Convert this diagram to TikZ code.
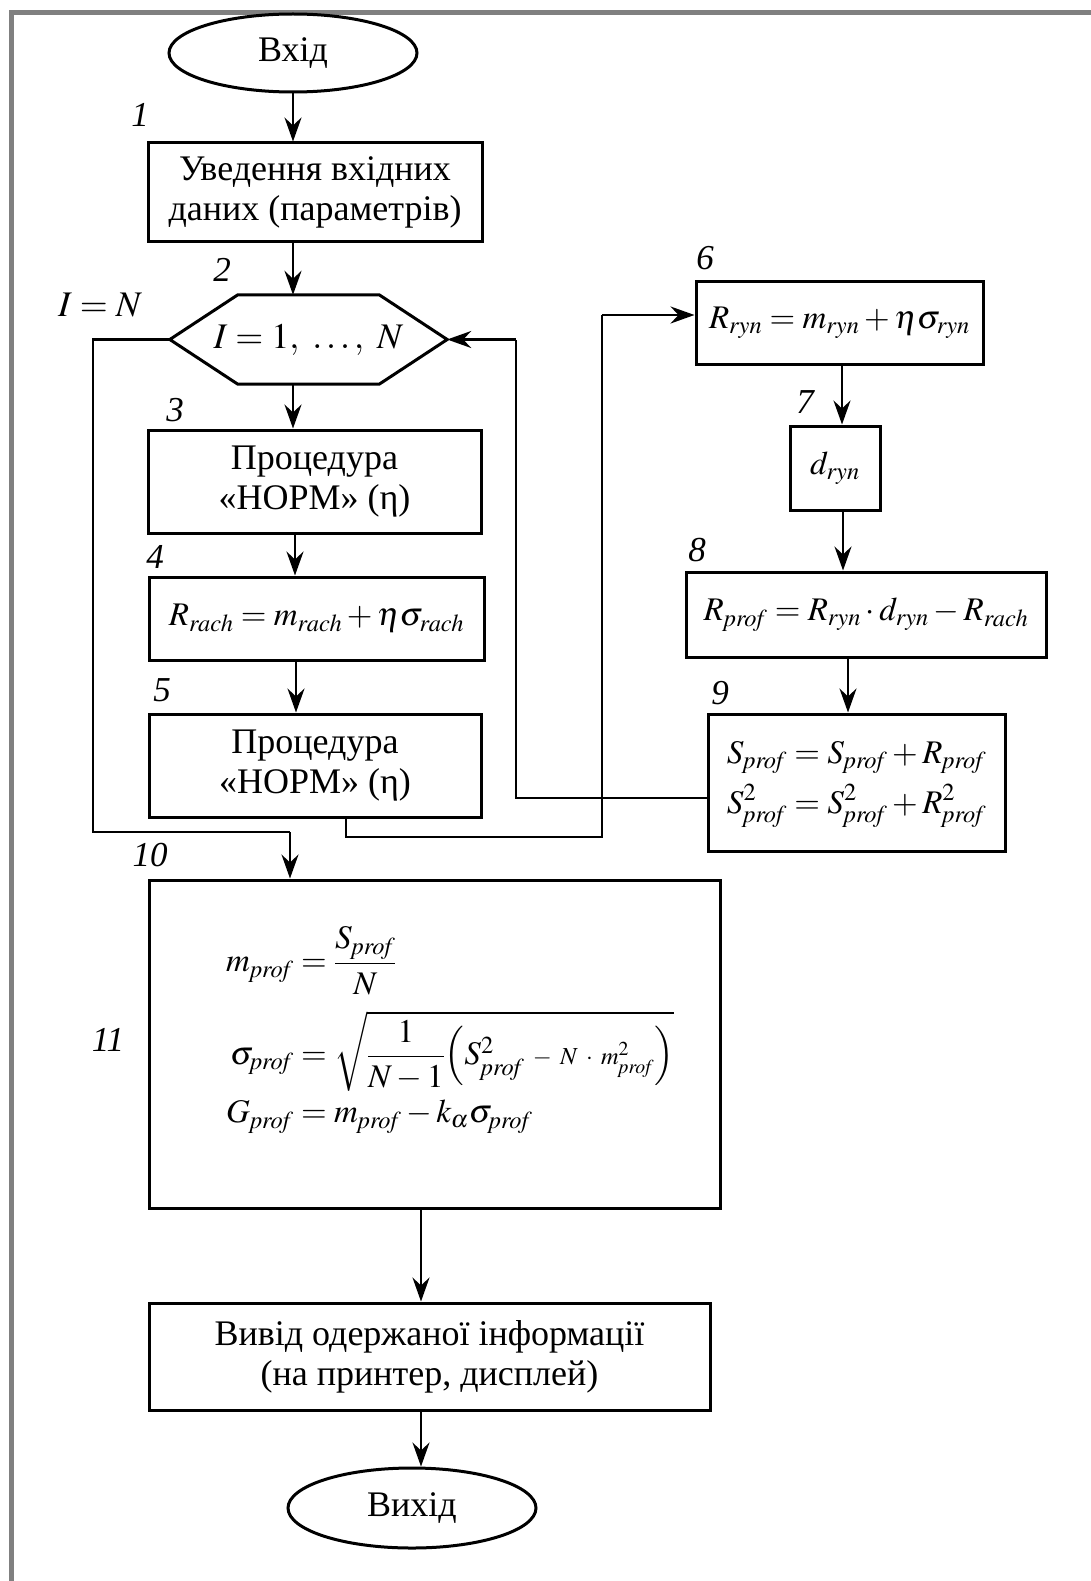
\documentclass[tikz,border=0pt]{standalone}
\usepackage{amsmath}
\usepackage{mathptmx}
\usepackage[no-math]{fontspec}
\setmainfont{Liberation Serif}
\newfontfamily\tmr{Liberation Serif}
\usetikzlibrary{arrows.meta,calc,shapes.geometric}
\definecolor{bordergray}{RGB}{128,128,128}
\newcommand{\sbs}[1]{_{\mathit{#1}}}
\begin{document}
\begin{tikzpicture}[x=1pt,y=-1pt,
  every node/.style={font=\tmr\fontsize{36}{40}\selectfont},
  box/.style={draw, line width=3pt, align=center, inner sep=0pt},
  term/.style={draw, ellipse, line width=3pt, inner sep=0pt},
  lbl/.style={font=\tmr\itshape\fontsize{35}{38}\selectfont, inner sep=0pt},
  mth/.style={font=\tmr\fontsize{33}{36}\selectfont},
  arr/.style={line width=2.5pt, -{Stealth[length=24pt,width=17pt,inset=8pt]}},
  ln/.style={line width=2.5pt}]
\fill[white] (0,0) rectangle (1091,1581);
\useasboundingbox (0,0) rectangle (1091,1581);
\draw[line width=5pt, bordergray] (11,1581) -- (11,13) -- (1091,13);

% nodes
\node[term, minimum width=248pt, minimum height=78pt] (start) at (293,53) {Вхід};
\node[box, minimum width=334pt, minimum height=98pt] (b1) at (315,192) {Уведення вхідних\\даних (параметрів)};
\node[minimum width=277pt, minimum height=89pt, inner sep=0pt] (hex) at (308.5,339.5) {$I = 1,\ \ldots,\ N$};
\draw[line width=3pt] (hex.west) -- ($(hex.north west)+(68,0)$) -- ($(hex.north east)+(-68,0)$) -- (hex.east)
  -- ($(hex.south east)+(-68,0)$) -- ($(hex.south west)+(68,0)$) -- cycle;
\node[box, minimum width=333pt, minimum height=103pt] (b3) at (314.5,481.5) {Процедура\\«НОРМ» (η)};
\node[box, mth, minimum width=335pt, minimum height=83pt] (b4) at (316.5,618.5) {$R\sbs{rach} = m\sbs{rach} + \eta\sigma\sbs{rach}$};
\node[box, minimum width=332pt, minimum height=103pt] (b5) at (315,765.5) {Процедура\\«НОРМ» (η)};
\node[box, mth, minimum width=287pt, minimum height=83pt] (b6) at (839.5,322.5) {$R\sbs{ryn} = m\sbs{ryn} + \eta\sigma\sbs{ryn}$};
\node[box, mth, minimum width=90pt, minimum height=84pt] (b7) at (835,468) {$d\sbs{ryn}$};
\node[box, mth, minimum width=360pt, minimum height=85pt] (b8) at (866,614.5) {$R\sbs{prof} = R\sbs{ryn}\cdot d\sbs{ryn} - R\sbs{rach}$};
\node[box, mth, minimum width=297pt, minimum height=137pt] (b9) at (856.5,782.5) {$\begin{aligned} S\sbs{prof} &= S\sbs{prof} + R\sbs{prof}\\[6pt] S^2\sbs{prof} &= S^2\sbs{prof} + R^2\sbs{prof}\end{aligned}$};
\node[box, minimum width=571pt, minimum height=328pt] (b11) at (434.5,1044) {};
\node[mth, anchor=west, inner sep=0pt] (f11) at (226,1030) {$\begin{aligned}
 m\sbs{prof} &= \frac{S\sbs{prof}}{N}\\[12pt]
 \sigma\sbs{prof} &= \sqrt{\frac{1}{N-1}\Bigl(S^{2}\sbs{prof}\ {\scriptstyle -\ N\ \cdot\ m^{2}\sbs{prof}}\Bigr)}\\[2pt]
 G\sbs{prof} &= m\sbs{prof} - k_{\alpha}\sigma\sbs{prof}
\end{aligned}$};
\node[box, minimum width=561pt, minimum height=107pt] (out) at (429.5,1356.5) {Вивід одержаної інформації\\(на принтер, дисплей)};
\node[term, minimum width=248pt, minimum height=80pt] (end) at (412,1508) {Вихід};

% labels
\node[lbl] (l1) at (140,115) {1};
\node[lbl] (l2) at (222,270) {2};
\node[inner sep=0pt] (lIN) at (100,305) {$I = N$};
\node[lbl] (l3) at (175,410) {3};
\node[lbl] (l4) at (155,557) {4};
\node[lbl] (l5) at (162,690) {5};
\node[lbl] (l6) at (705,258) {6};
\node[lbl] (l7) at (805,402) {7};
\node[lbl] (l8) at (697,550) {8};
\node[lbl] (l9) at (720,693) {9};
\node[lbl] (l10) at (150,855) {10};
\node[lbl] (l11) at (108,1040) {11};

% main column arrows
\coordinate (cx) at (293,0);
\coordinate (cx4) at (295,0);
\coordinate (cx5) at (296,0);
\coordinate (rx6) at (842,0);
\coordinate (rx7) at (843,0);
\coordinate (rx8) at (848,0);
\coordinate (ox) at (421,0);
\draw[arr] (start.south -| cx) -- (b1.north -| cx);
\draw[arr] (b1.south -| cx) -- (hex.north -| cx);
\draw[arr] (hex.south -| cx) -- (b3.north -| cx);
\draw[arr] (b3.south -| cx4) -- (b4.north -| cx4);
\draw[arr] (b4.south -| cx5) -- (b5.north -| cx5);
\draw[arr] (b6.south -| rx6) -- (b7.north -| rx6);
\draw[arr] (b7.south -| rx7) -- (b8.north -| rx7);
\draw[arr] (b8.south -| rx8) -- (b9.north -| rx8);
\draw[arr] (b11.south -| ox) -- (out.north -| ox);
\draw[arr] (out.south -| ox) -- (end.north -| ox);

% exit loop I = N
\coordinate (L1) at (93,832);
\coordinate (L2) at (290,832);
\draw[ln] (hex.west) -- (hex.west -| L1) -- (L1) -- (L2);
\draw[arr] (L2) -- (b11.north -| L2);

% from block 5 to block 6
\coordinate (P1) at (346,837);
\coordinate (P2) at (602,837);
\coordinate (P3) at (602,315);
\draw[ln] (b5.south -| P1) -- (P1) -- (P2) -- (P3);
\draw[arr] (P3) -- (b6.west |- P3);

% from block 9 back to loop
\coordinate (Q1) at (516,798);
\coordinate (Q2) at (516,339.5);
\draw[ln] (b9.west |- Q1) -- (Q1) -- (Q2);
\draw[arr] (Q2) -- (hex.east);
\end{tikzpicture}
\end{document}
